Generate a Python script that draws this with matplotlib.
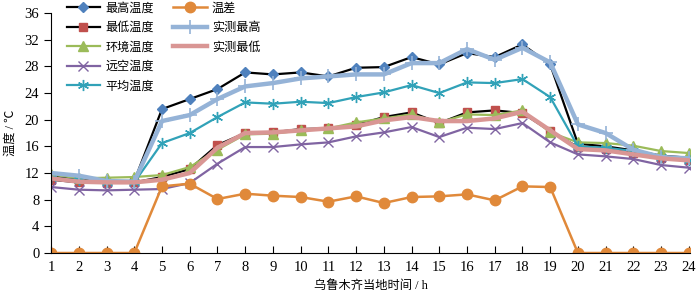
import matplotlib.pyplot as plt
import numpy as np
from matplotlib.lines import Line2D

plt.rcParams['font.family'] = ['Liberation Serif', 'Noto Sans CJK SC', 'DejaVu Sans']

hours = np.arange(1, 25)

t_max = [11.5, 11.0, 10.8, 10.8, 21.6, 23.1, 24.6, 27.1, 26.8, 27.1, 26.5, 27.8,
         27.9, 29.4, 28.3, 30.0, 29.4, 31.3, 28.3, 16.4, 16.0, 15.4, 14.6, 14.3]
t_min = [11.0, 10.6, 10.5, 10.6, 11.4, 12.6, 16.2, 18.0, 18.1, 18.6, 18.7, 19.2,
         20.4, 21.1, 19.5, 21.1, 21.4, 21.0, 18.3, 15.9, 15.6, 15.0, 14.2, 13.9]
t_env = [11.8, 11.2, 11.3, 11.4, 11.7, 12.9, 15.5, 17.8, 17.9, 18.4, 18.7, 19.6,
         20.2, 20.8, 19.6, 20.8, 20.7, 21.4, 18.1, 16.6, 16.5, 16.1, 15.3, 15.0]
t_sky = [9.9, 9.5, 9.4, 9.5, 9.6, 10.5, 13.4, 15.9, 15.9, 16.3, 16.6, 17.5,
         18.1, 18.9, 17.4, 18.8, 18.6, 19.5, 16.6, 14.8, 14.5, 14.1, 13.2, 12.8]
t_mean = [11.3, 10.9, 10.6, 10.6, 16.5, 18.0, 20.4, 22.6, 22.4, 22.7, 22.5, 23.4,
          24.1, 25.2, 24.0, 25.6, 25.5, 26.1, 23.4, 16.0, 15.8, 15.3, 14.4, 14.0]
t_diff = [0, 0, 0, 0, 10.0, 10.4, 8.1, 8.9, 8.6, 8.4, 7.7, 8.5,
          7.5, 8.4, 8.5, 8.8, 7.9, 10.0, 9.9, 0, 0, 0, 0, 0]
m_max = [12.0, 11.6, 10.8, 10.7, 19.8, 20.7, 23.1, 25.0, 25.5, 26.2, 26.5, 26.8,
         26.8, 28.5, 28.5, 30.6, 29.0, 30.8, 28.6, 19.3, 18.0, 15.5, 14.4, 14.2]
m_min = [11.2, 10.7, 10.6, 10.6, 11.0, 12.0, 15.8, 18.0, 18.1, 18.4, 18.7, 19.0,
         19.9, 20.4, 19.8, 19.8, 20.2, 21.2, 18.4, 15.6, 15.4, 14.8, 14.2, 13.9]

fig = plt.figure(figsize=(7, 2.98), dpi=100)
ax = fig.add_axes([0.073, 0.151, 0.913, 0.805])

ax.plot(hours, t_max, color='black', lw=1.6, marker='D', ms=5.5,
        mfc='#4F81BD', mec='#4F81BD', label='最高温度')
ax.plot(hours, t_min, color='black', lw=1.6, marker='s', ms=6,
        mfc='#C0504D', mec='#C0504D', label='最低温度')
ax.plot(hours, t_env, color='#9BBB59', lw=1.6, marker='^', ms=6.5,
        label='环境温度')
ax.plot(hours, t_sky, color='#8064A2', lw=1.6, marker='x', ms=6.5, mew=1,
        label='远空温度')
ax.plot(hours, t_mean, color='#31A2B8', lw=1.6, marker=(6, 2, 0), ms=8, mew=1,
        label='平均温度')
ax.plot(hours, t_diff, color='#E0893A', lw=1.8, marker='o', ms=7.5,
        label='温差')
ax.plot(hours, m_max, color='#95B3D7', lw=3.2, marker='+', ms=10, mew=1.2,
        label='实测最高')
ax.plot(hours, m_min, color='#D99694', lw=3.2, label='实测最低')

ax.set_xlim(1, 24.05)
ax.set_ylim(0, 36)
ax.set_xticks(hours)
ax.set_yticks(np.arange(0, 37, 4))
ax.spines['top'].set_visible(False)
ax.spines['right'].set_visible(False)
ax.tick_params(axis='x', direction='in', length=5, labelsize=10.5, pad=6)
ax.tick_params(axis='y', direction='out', length=5, labelsize=10.5)
ax.set_xlabel('乌鲁木齐当地时间 / h', fontsize=8.8, labelpad=4)
ax.set_ylabel('温度 / ℃', fontsize=8.8, labelpad=6)

# 5 entries in the first column, 3 in the second: pad with blanks
handles, labels = ax.get_legend_handles_labels()
blank = Line2D([], [], linestyle='none')
handles += [blank, blank]
labels += ['', '']
ax.legend(handles, labels, loc='upper left', bbox_to_anchor=(0.083, 1.02),
          bbox_transform=fig.transFigure, ncol=2, frameon=False, fontsize=8.7,
          handlelength=2.8, labelspacing=0.62, columnspacing=1.6, borderpad=0.2,
          handletextpad=0.4)

fig.savefig('out.png', dpi=100)
